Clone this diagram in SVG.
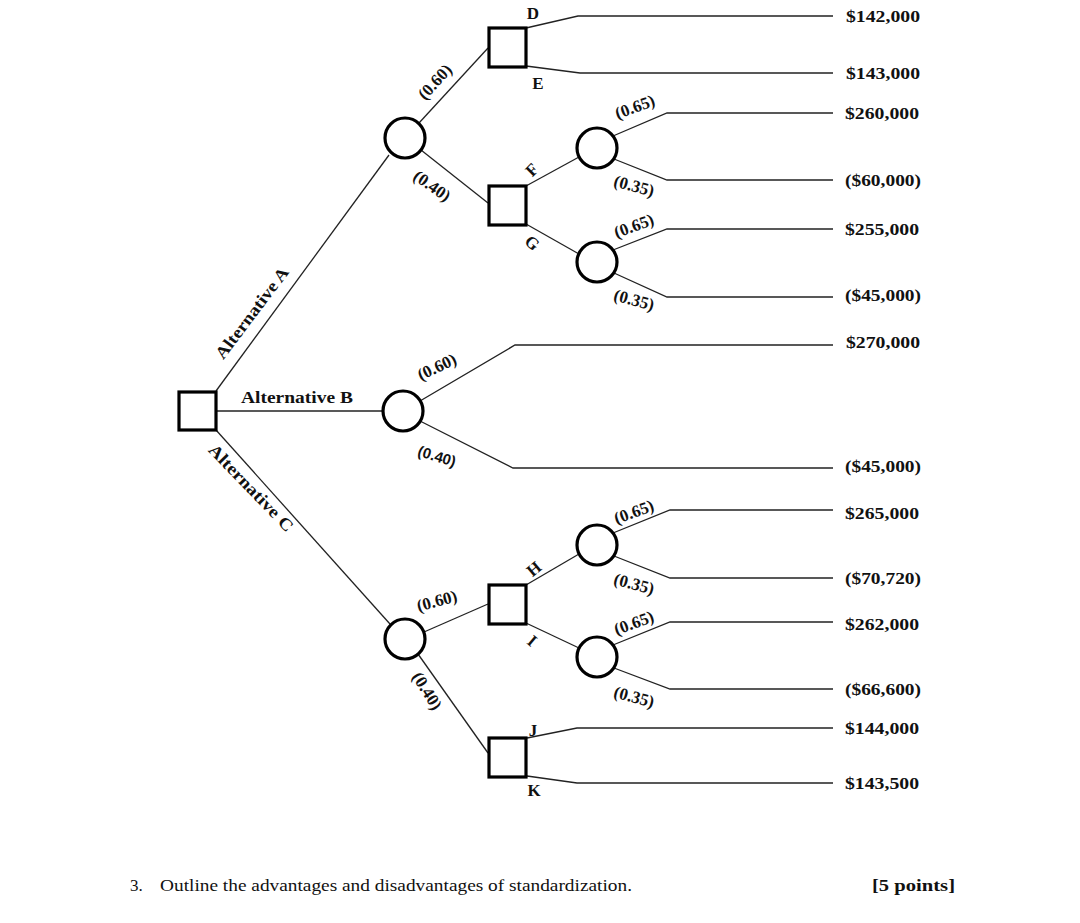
<svg xmlns="http://www.w3.org/2000/svg" width="1080" height="923" viewBox="0 0 1080 923">
<style>
.c{fill:none;stroke:#222;stroke-width:1.3}
.sq{fill:#fff;stroke:#000;stroke-width:3.2}
.ci{fill:#fff;stroke:#000;stroke-width:3.2}
.t{font-family:"Liberation Serif","Times New Roman",serif;font-weight:bold;font-size:17px;fill:#111}
.v{font-family:"Liberation Serif","Times New Roman",serif;font-weight:bold;font-size:17px;fill:#111}
.m{text-anchor:middle;dominant-baseline:central}
.s{font-family:"Liberation Sans",sans-serif;font-weight:bold;font-size:15px;fill:#111}
.q{font-family:"Liberation Serif","Times New Roman",serif;font-size:17px;fill:#111}
</style>
<rect width="1080" height="923" fill="#fff"/>
<g id="connectors">
<path class="c" d="M216,391 L389,155"/>
<path class="c" d="M216,411 L383,411"/>
<path class="c" d="M216,430 L390,624"/>
<path class="c" d="M419,123 L488,48"/>
<path class="c" d="M421,150 L488,203"/>
<path class="c" d="M526,28 L578,16 L833,16"/>
<path class="c" d="M526,66 L580,73 L833,73"/>
<path class="c" d="M526,186 L579,157"/>
<path class="c" d="M526,224 L579,254"/>
<path class="c" d="M613,136 L667,113 L833,113"/>
<path class="c" d="M614,159 L667,180 L833,180"/>
<path class="c" d="M613,250 L667,229 L833,229"/>
<path class="c" d="M614,273 L667,297 L833,297"/>
<path class="c" d="M420,401 L515,345 L833,345"/>
<path class="c" d="M420,421 L513,468 L833,468"/>
<path class="c" d="M424,632 L488,604"/>
<path class="c" d="M418,654 L488,753"/>
<path class="c" d="M526,585 L579,554"/>
<path class="c" d="M526,623 L579,648"/>
<path class="c" d="M613,533 L670,510 L833,510"/>
<path class="c" d="M614,556 L670,578 L833,578"/>
<path class="c" d="M613,645 L670,622 L833,622"/>
<path class="c" d="M614,668 L670,689 L833,689"/>
<path class="c" d="M527,738 L577,728 L833,728"/>
<path class="c" d="M527,776 L577,783 L833,783"/>
</g>
<g id="root"><rect class="sq" x="179" y="392" width="37" height="38"/></g>
<g id="chanceA"><circle class="ci" cx="405" cy="138" r="20"/></g>
<g id="chanceB"><circle class="ci" cx="403" cy="411" r="20"/></g>
<g id="chanceC"><circle class="ci" cx="405" cy="639" r="20"/></g>
<g id="decisionDE"><rect class="sq" x="489" y="28" width="37" height="39"/></g>
<g id="decisionFG"><rect class="sq" x="489" y="186" width="37" height="39"/></g>
<g id="decisionHI"><rect class="sq" x="489" y="585" width="37" height="39"/></g>
<g id="decisionJK"><rect class="sq" x="489" y="738" width="37" height="39"/></g>
<g id="chanceF"><circle class="ci" cx="597" cy="148" r="20"/></g>
<g id="chanceG"><circle class="ci" cx="597" cy="262" r="20"/></g>
<g id="chanceH"><circle class="ci" cx="597" cy="545" r="20"/></g>
<g id="chanceI"><circle class="ci" cx="597" cy="657" r="20"/></g>
<g id="labels">
<text class="t m" transform="translate(252,313) rotate(-53)" font-size="16" textLength="110" lengthAdjust="spacingAndGlyphs">Alternative A</text>
<text class="t m" x="297" y="397" font-size="17" textLength="112" lengthAdjust="spacingAndGlyphs">Alternative B</text>
<text class="t m" transform="translate(251,488) rotate(46)" font-size="16" textLength="114" lengthAdjust="spacingAndGlyphs">Alternative C</text>
<text class="t m" transform="translate(435,82) rotate(-47)">(0.60)</text>
<text class="t m" transform="translate(432,186) rotate(35)">(0.40)</text>
<text class="t m" transform="translate(437,367) rotate(-25)">(0.60)</text>
<text class="s m" transform="translate(437,456) rotate(17)">(0.40)</text>
<text class="t m" transform="translate(437,601) rotate(-15)">(0.60)</text>
<text class="t m" transform="translate(427,691) rotate(58)">(0.40)</text>
<text class="t m" x="533" y="13">D</text>
<text class="t m" x="538" y="83">E</text>
<text class="t m" transform="translate(532,170) rotate(-45)">F</text>
<text class="t m" transform="translate(532,243) rotate(40)">G</text>
<text class="t m" transform="translate(534,569) rotate(-40)">H</text>
<text class="t m" transform="translate(532,641) rotate(40)">I</text>
<text class="t m" x="533" y="730">J</text>
<text class="t m" x="534" y="790">K</text>
<text class="t m" transform="translate(635,107) rotate(-20)">(0.65)</text>
<text class="t m" transform="translate(634,186) rotate(15)">(0.35)</text>
<text class="t m" transform="translate(634,226) rotate(-20)">(0.65)</text>
<text class="t m" transform="translate(634,300) rotate(15)">(0.35)</text>
<text class="t m" transform="translate(634,512) rotate(-20)">(0.65)</text>
<text class="t m" transform="translate(634,584) rotate(15)">(0.35)</text>
<text class="t m" transform="translate(634,623) rotate(-20)">(0.65)</text>
<text class="t m" transform="translate(634,697) rotate(15)">(0.35)</text>
</g>
<g id="values">
<text class="v" x="846" y="22" textLength="74" lengthAdjust="spacingAndGlyphs">$142,000</text>
<text class="v" x="846" y="79" textLength="74" lengthAdjust="spacingAndGlyphs">$143,000</text>
<text class="v" x="845" y="119" textLength="74" lengthAdjust="spacingAndGlyphs">$260,000</text>
<text class="v" x="845" y="186" textLength="76" lengthAdjust="spacingAndGlyphs">($60,000)</text>
<text class="v" x="845" y="235" textLength="74" lengthAdjust="spacingAndGlyphs">$255,000</text>
<text class="v" x="845" y="301" textLength="76" lengthAdjust="spacingAndGlyphs">($45,000)</text>
<text class="v" x="846" y="348" textLength="74" lengthAdjust="spacingAndGlyphs">$270,000</text>
<text class="v" x="845" y="472" textLength="76" lengthAdjust="spacingAndGlyphs">($45,000)</text>
<text class="v" x="845" y="519" textLength="74" lengthAdjust="spacingAndGlyphs">$265,000</text>
<text class="v" x="845" y="584" textLength="76" lengthAdjust="spacingAndGlyphs">($70,720)</text>
<text class="v" x="845" y="630" textLength="74" lengthAdjust="spacingAndGlyphs">$262,000</text>
<text class="v" x="845" y="695" textLength="76" lengthAdjust="spacingAndGlyphs">($66,600)</text>
<text class="v" x="845" y="734" textLength="74" lengthAdjust="spacingAndGlyphs">$144,000</text>
<text class="v" x="845" y="789" textLength="74" lengthAdjust="spacingAndGlyphs">$143,500</text>
</g>
<g id="question">
<text class="q" x="130" y="891">3.</text>
<text class="q" x="160" y="891" textLength="472" lengthAdjust="spacingAndGlyphs">Outline the advantages and disadvantages of standardization.</text>
<text class="q" x="872" y="891" font-weight="bold" textLength="83" lengthAdjust="spacingAndGlyphs">[5 points]</text>
</g>
</svg>
